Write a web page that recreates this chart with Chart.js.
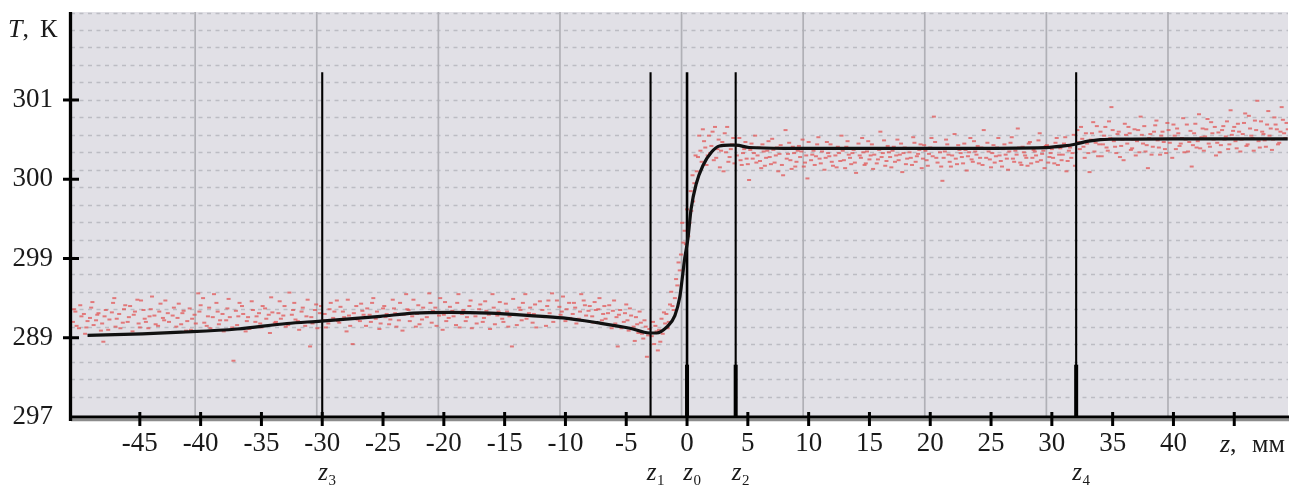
<!DOCTYPE html>
<html>
<head>
<meta charset="utf-8">
<script src="https://cdn.jsdelivr.net/npm/chart.js@4.4.1/dist/chart.umd.min.js"></script>
<style>
  html, body { margin: 0; padding: 0; background: #ffffff; }
  #wrap { width: 1294px; height: 485px; position: relative; }
</style>
</head>
<body>
<div id="wrap"><canvas id="c"></canvas></div>
<script>
// ---- axis ticks ----
const xTickValues = [-45, -40, -35, -30, -25, -20, -15, -10, -5, 0, 5, 10, 15, 20, 25, 30, 35, 40, 45];
const xTickLabels = ['-45', '-40', '-35', '-30', '-25', '-20', '-15', '-10', '-5', '0', '5', '10', '15', '20', '25', '30', '35', '40', ''];
const yTickValues = [297, 298, 299, 300, 301];
const yTickLabels = ['297', '289', '299', '300', '301'];

// ---- background grid (own hidden scales) ----
const gridXValues = [-40, -30, -20, -10, 0, 10, 20, 30, 40];
const gridYValues = [0, 1, 2, 3, 4, 5, 6, 7, 8, 9, 10, 11, 12, 13, 14, 15, 16, 17, 18, 19, 20, 21, 22];

// ---- smoothed temperature profile T(z) ----
const curveZ = [-49.3, -44.8, -41.6, -37, -32.9, -30.1, -25.2, -22.5, -19.5, -16.2, -12.9, -10.2, -7.4, -4.7, -3.1, -2.5,
  -1.7, -1.0, -0.6, -0.4, -0.2, 0.07, 0.34, 0.75, 1.3, 2.0, 2.67, 3.5, 4.04, 5.1, 8, 15, 22, 29.5, 31, 32, 33, 34, 35, 40, 49.4];
const curveT = [298.03, 298.05, 298.07, 298.11, 298.18, 298.21, 298.27, 298.31, 298.32, 298.31, 298.28, 298.25, 298.19, 298.12, 298.06, 298.06,
  298.13, 298.28, 298.51, 298.74, 298.99, 299.25, 299.63, 299.94, 300.17, 300.34, 300.42, 300.43, 300.43, 300.40, 300.39, 300.39, 300.39, 300.40, 300.42, 300.445, 300.48, 300.50, 300.505, 300.51, 300.51];

// ---- characteristic cross-sections z0..z4 ----
const markerZ = [-30, -3, 0, 4, 32];
const markerSub = ['3', '1', '0', '2', '4'];
const markerTop = 301.35;

// ---- measured points (z, T) ----
const scatterLeft = [
  [-50.5,298.20],[-50.3,298.33],[-50.0,298.12],[-49.8,298.27],[-49.5,298.05],[-49.3,298.21],[-49.0,298.38],[-48.8,298.16],
  [-48.5,298.29],[-48.2,298.09],[-48.0,297.95],[-47.8,298.35],[-47.5,298.23],[-47.2,298.44],[-47.0,298.14],[-46.7,298.30],
  [-46.4,298.19],[-46.2,298.41],[-45.9,298.26],[-45.6,298.08],[-45.4,298.33],[-45.1,298.18],[-44.9,298.47],[-44.6,298.24],
  [-44.3,298.12],[-44.1,298.36],[-43.8,298.28],[-43.5,298.15],[-43.3,298.43],[-43.0,298.22],[-42.7,298.31],[-42.5,298.06],
  [-42.2,298.38],[-41.9,298.25],[-41.6,298.17],[-41.4,298.34],[-41.1,298.21],[-40.8,298.10],[-40.5,298.29],[-40.2,298.56],
  [-40.0,298.41],[-39.7,298.19],[-39.4,298.27],[-39.2,298.12],[-38.9,298.55],[-38.6,298.33],[-38.4,298.22],[-38.1,298.08],
  [-37.8,298.37],[-37.6,298.26],[-37.3,297.71],[-37.0,298.16],[-36.8,298.44],[-36.5,298.30],[-36.2,298.21],[-36.0,298.11],
  [-35.7,298.35],[-35.4,298.27],[-35.1,298.18],[-34.9,298.40],[-34.6,298.24],[-34.3,298.06],[-34.1,298.32],[-33.8,298.20],
  [-33.5,298.46],[-33.2,298.28],[-33.0,298.14],[-32.7,298.57],[-32.4,298.35],[-32.2,298.23],[-31.9,298.10],[-31.6,298.38],
  [-31.3,298.27],[-31.0,297.89],[-30.8,298.18],[-30.5,298.42],[-30.2,298.31],[-29.9,298.22],[-29.7,298.13],[-29.4,298.36],
  [-29.1,298.25],[-28.8,298.47],[-28.6,298.19],[-28.3,298.33],[-28.0,298.08],[-27.8,298.28],[-27.5,297.92],[-27.2,298.40],
  [-26.9,298.21],[-26.7,298.34],[-26.4,298.15],[-26.1,298.29],[-25.9,298.44],[-25.6,298.24],[-25.3,298.11],[-25.0,298.37],
  [-24.8,298.26],[-24.5,298.17],[-24.2,298.48],[-24.0,298.31],[-23.7,298.22],[-23.4,298.09],[-23.1,298.55],[-22.9,298.35],
  [-22.6,298.27],[-22.3,298.14],[-22.1,298.41],[-21.8,298.23],[-21.5,298.32],[-21.2,298.56],[-21.0,298.19],[-20.7,298.38],
  [-20.4,298.28],[-20.1,298.10],[-19.9,298.45],[-19.6,298.25],[-19.3,298.34],[-19.0,298.16],[-18.8,298.55],[-18.5,298.30],
  [-18.2,298.21],[-17.9,298.40],[-17.7,298.12],[-17.4,298.27],[-17.1,298.36],[-16.8,298.20],[-16.6,298.46],[-16.3,298.29],
  [-16.0,298.55],[-15.8,298.17],[-15.5,298.33],[-15.2,298.24],[-14.9,298.43],[-14.7,298.14],[-14.4,297.89],[-14.1,298.30],
  [-13.8,298.38],[-13.6,298.22],[-13.3,298.55],[-13.0,298.31],[-12.7,298.19],[-12.5,298.42],[-12.2,298.27],[-11.9,298.35],
  [-11.6,298.15],[-11.4,298.47],[-11.1,298.56],[-10.8,298.26],[-10.5,298.39],[-10.3,298.33],[-10.0,298.21],[-9.7,298.44],
  [-9.4,298.30],[-9.2,298.38],[-8.9,298.24],[-8.7,298.55],[-8.4,298.41],[-8.1,298.34],[-7.8,298.27],[-7.6,298.45],
  [-7.3,298.36],[-7.0,298.22],[-6.8,298.40],[-6.5,298.31],[-6.2,298.12],[-6.0,298.47],[-5.8,298.26],[-5.7,297.89],
  [-5.5,298.35],[-5.2,298.20],[-5.0,298.42],[-4.8,298.09],[-4.6,298.28],[-4.3,297.96],[-4.1,298.17],[-3.9,298.33],
  [-3.7,298.05],[-3.5,298.22],[-3.3,297.76],[-3.1,298.11],
  [-50.4,298.36],[-50.2,298.15],[-49.9,298.41],[-49.6,298.30],[-49.4,298.13],[-49.1,298.25],[-48.9,298.45],[-48.6,298.22],
  [-48.4,298.31],[-48.1,298.18],[-47.9,298.27],[-47.6,298.10],[-47.3,298.32],[-47.1,298.50],[-46.9,298.24],[-46.6,298.12],
  [-46.3,298.36],[-46.0,298.20],[-45.8,298.40],[-45.5,298.29],[-45.2,298.48],[-45.0,298.13],[-44.7,298.35],[-44.5,298.20],
  [-44.2,298.27],[-44.0,298.52],[-43.7,298.17],[-43.4,298.33],[-43.1,298.25],[-42.9,298.47],[-42.6,298.20],[-42.3,298.28],
  [-42.0,298.14],[-41.8,298.43],[-41.5,298.31],[-41.2,298.09],[-40.9,298.37],[-40.7,298.24],[-40.4,298.18],[-40.1,298.33],
  [-39.8,298.50],[-39.5,298.15],[-39.3,298.38],[-39.0,298.26],[-38.7,298.44],[-38.5,298.17],[-38.2,298.30],[-37.9,298.22],
  [-37.7,298.49],[-37.4,298.13],[-37.1,298.34],[-36.9,298.27],[-36.6,298.40],[-36.3,298.08],[-36.1,298.26],[-35.8,298.46],
  [-35.5,298.20],[-35.2,298.31],[-35.0,298.13],[-34.7,298.37],[-34.4,298.29],[-34.2,298.51],[-33.9,298.19],[-33.6,298.31],
  [-33.4,298.24],[-33.1,298.40],[-32.8,298.16],[-32.5,298.29],[-32.3,298.44],[-32.0,298.21],[-31.7,298.33],[-31.4,298.15],
  [-31.2,298.48],[-30.9,298.26],[-30.6,298.35],[-30.4,298.12],[-30.1,298.40],[-29.8,298.30],[-29.5,298.18],[-29.3,298.44],
  [-29.0,298.33],[-28.7,298.21],[-28.5,298.39],[-28.2,298.26],[-27.9,298.48],[-27.7,298.15],[-27.4,298.31],[-27.1,298.23],
  [-26.8,298.43],[-26.6,298.29],[-26.3,298.37],[-26.0,298.20],[-25.8,298.50],[-25.5,298.33],[-25.2,298.18],[-24.9,298.40],
  [-24.7,298.30],[-24.4,298.23],[-24.1,298.37],[-23.9,298.14],[-23.6,298.44],[-23.3,298.29],[-23.0,298.36],[-22.8,298.21],
  [-22.5,298.48],[-22.2,298.30],[-22.0,298.17],[-21.7,298.38],[-21.4,298.26],[-21.1,298.44],[-20.9,298.34],[-20.6,298.15],
  [-20.3,298.50],[-20.0,298.29],[-19.8,298.21],[-19.5,298.39],[-19.2,298.27],[-18.9,298.44],[-18.7,298.13],[-18.4,298.35],
  [-18.1,298.26],[-17.8,298.47],[-17.6,298.31],[-17.3,298.18],[-17.0,298.42],[-16.7,298.25],[-16.5,298.34],[-16.2,298.11],
  [-15.9,298.38],[-15.6,298.28],[-15.4,298.45],[-15.1,298.20],[-14.8,298.33],[-14.6,298.27],[-14.3,298.49],[-14.0,298.16],
  [-13.7,298.35],[-13.5,298.44],[-13.2,298.24],[-12.9,298.38],[-12.6,298.30],[-12.4,298.13],[-12.1,298.46],[-11.8,298.26],
  [-11.5,298.40],[-11.3,298.31],[-11.0,298.20],[-10.7,298.47],[-10.4,298.29],[-10.2,298.52],[-9.9,298.36],[-9.6,298.25],
  [-9.3,298.44],[-9.1,298.18],[-8.8,298.33],[-8.5,298.47],[-8.3,298.28],[-8.0,298.40],[-7.7,298.19],[-7.5,298.35],
  [-7.2,298.50],[-6.9,298.30],[-6.7,298.24],[-6.4,298.41],[-6.1,298.34],[-5.9,298.18],[-5.6,298.29],[-5.4,298.12],
  [-5.1,298.31],[-4.9,298.22],[-4.7,298.37],[-4.4,298.14],[-4.2,298.26],[-4.0,298.06],[-3.8,298.19],[-3.6,297.99],
  [-3.4,298.14],[-3.2,298.03]
];
const scatterStep = [
  [-2.9,298.02],[-2.7,297.92],[-2.6,298.15],[-2.4,297.84],[-2.3,298.10],[-2.1,298.24],[-2.0,298.05],[-1.8,298.18],
  [-1.7,298.30],[-1.5,298.20],[-1.4,298.42],[-1.3,298.58],[-1.1,298.35],[-1.0,298.50],[-0.8,298.66],[-0.6,298.85],
  [-0.5,299.05],[-0.3,299.20],[-0.2,299.35],[-0.1,299.18],[0.1,299.28],[0.2,299.45],[0.35,299.60],[0.5,299.72],
  [0.6,299.95],[0.8,300.10],[0.9,300.28],[1.1,300.36],[1.2,300.22],[1.4,300.48],[1.5,300.40],[1.7,300.30],
  [1.8,300.55],[2.0,300.42],[2.2,300.24],[2.3,300.66],[2.5,300.38],[2.7,300.15],[2.9,300.47],[3.0,300.10],
  [3.2,300.34],[3.3,300.66],[3.5,300.28],[3.7,300.44],[3.9,300.20],
  [-2.8,298.20],[-2.5,298.08],[-2.2,297.95],[-1.9,298.32],[-1.6,298.12],[-1.2,298.40],[-0.9,298.74],[-0.7,298.95],
  [-0.4,299.45],[0.0,299.62],[0.3,299.85],[0.45,300.05],[0.7,300.30],[1.0,300.55],[1.3,300.63],[1.6,300.18],
  [1.9,300.33],[2.1,300.60],[2.4,300.27],[2.6,300.50],[2.8,300.36],[3.1,300.58],[3.4,300.22],[3.6,300.38],[3.8,300.52]
];
const scatterMid = [
  [4.1,300.30],[4.3,300.52],[4.5,300.18],[4.7,300.38],[4.9,300.26],[5.1,299.99],[5.3,300.45],[5.5,300.33],
  [5.7,300.21],[5.9,300.40],[6.1,300.14],[6.3,300.35],[6.5,300.27],[6.7,300.48],[6.9,300.19],[7.1,300.37],
  [7.3,300.30],[7.5,300.10],[7.7,300.43],[7.9,300.05],[8.1,300.62],[8.3,300.32],[8.5,300.24],[8.7,300.41],
  [8.9,300.16],[9.1,300.36],[9.3,300.28],[9.5,300.50],[9.7,300.21],[9.9,300.01],[10.1,300.39],[10.3,300.31],
  [10.5,300.18],[10.7,300.44],[10.9,300.26],[11.1,300.35],[11.3,300.12],[11.5,300.47],[11.7,300.29],[11.9,300.22],
  [12.1,300.38],[12.3,300.15],[12.5,300.33],[12.7,300.55],[12.9,300.24],[13.1,300.41],[13.3,300.31],[13.5,300.19],
  [13.7,300.37],[13.9,300.08],[14.1,300.45],[14.3,300.27],[14.5,300.34],[14.7,300.20],[14.9,300.48],[15.1,300.30],
  [15.3,300.13],[15.5,300.39],[15.7,300.25],[15.9,300.60],[16.1,300.33],[16.3,300.17],[16.5,300.42],[16.7,300.28],
  [16.9,300.36],[17.1,300.22],[17.3,300.50],[17.5,300.31],[17.7,300.09],[17.9,300.40],[18.1,300.26],[18.3,300.34],
  [18.5,300.18],[18.7,300.46],[18.9,300.29],[19.1,300.37],[19.3,300.14],[19.5,300.43],[19.7,300.24],[19.9,300.32],
  [20.1,300.52],[20.3,300.79],[20.5,300.27],[20.7,300.38],[20.9,300.16],[21.0,299.98],[21.2,300.35],[21.4,300.44],
  [21.6,300.22],[21.8,300.30],[22.0,300.57],[22.2,300.19],[22.4,300.37],[22.6,300.28],[22.8,300.45],[23.0,300.11],
  [23.2,300.34],[23.4,300.25],[23.6,300.48],[23.8,300.31],[24.0,300.20],[24.2,300.40],[24.4,300.62],[24.6,300.27],
  [24.8,300.35],[25.0,300.15],[25.2,300.43],[25.4,300.29],[25.6,300.52],[25.8,300.23],[26.0,300.38],[26.2,300.31],
  [26.4,300.12],[26.6,300.46],[26.8,300.26],[27.0,300.36],[27.2,300.64],[27.4,300.21],[27.6,300.41],[27.8,300.30],
  [28.0,300.17],[28.2,300.47],[28.4,300.27],[28.6,300.35],[28.8,300.22],[29.0,300.58],[29.2,300.32],[29.4,300.14],
  [29.6,300.43],[29.8,300.28],[30.0,300.38],[30.2,300.20],[30.4,300.52],[30.6,300.31],[30.8,300.24],[31.0,300.45],
  [31.2,300.10],[31.4,300.36],[31.6,300.27],[31.8,300.56],
  [4.2,300.42],[4.4,300.24],[4.6,300.33],[4.8,300.47],[5.0,300.19],[5.2,300.37],[5.4,300.26],[5.6,300.55],
  [5.8,300.30],[6.0,300.23],[6.2,300.44],[6.4,300.17],[6.6,300.36],[6.8,300.28],[7.0,300.51],[7.2,300.21],
  [7.4,300.40],[7.6,300.32],[7.8,300.18],[8.0,300.38],[8.2,300.26],[8.4,300.46],[8.6,300.13],[8.8,300.33],
  [9.0,300.22],[9.2,300.42],[9.4,300.35],[9.6,300.16],[9.8,300.30],[10.0,300.47],[10.2,300.24],[10.4,300.36],
  [10.6,300.29],[10.8,300.53],[11.0,300.20],[11.2,300.39],[11.4,300.27],[11.6,300.33],[11.8,300.44],[12.0,300.17],
  [12.2,300.30],[12.4,300.41],[12.6,300.23],[12.8,300.36],[13.0,300.14],[13.2,300.48],[13.4,300.27],[13.6,300.33],
  [13.8,300.21],[14.0,300.39],[14.2,300.30],[14.4,300.52],[14.6,300.18],[14.8,300.35],[15.0,300.25],[15.2,300.44],
  [15.4,300.31],[15.6,300.20],[15.8,300.37],[16.0,300.28],[16.2,300.49],[16.4,300.23],[16.6,300.34],[16.8,300.15],
  [17.0,300.41],[17.2,300.30],[17.4,300.24],[17.6,300.45],[17.8,300.33],[18.0,300.19],[18.2,300.38],[18.4,300.27],
  [18.6,300.53],[18.8,300.22],[19.0,300.32],[19.2,300.44],[19.4,300.26],[19.6,300.36],[19.8,300.17],[20.0,300.40],
  [20.2,300.29],[20.4,300.47],[20.6,300.21],[20.8,300.34],[21.1,300.27],[21.3,300.50],[21.5,300.31],[21.7,300.16],
  [21.9,300.39],[22.1,300.26],[22.3,300.43],[22.5,300.33],[22.7,300.20],[22.9,300.37],[23.1,300.29],[23.3,300.52],
  [23.5,300.22],[23.7,300.35],[23.9,300.42],[24.1,300.27],[24.3,300.18],[24.5,300.38],[24.7,300.46],[24.9,300.25],
  [25.1,300.33],[25.3,300.21],[25.5,300.40],[25.7,300.30],[25.9,300.16],[26.1,300.44],[26.3,300.26],[26.5,300.35],
  [26.7,300.53],[26.9,300.22],[27.1,300.31],[27.3,300.40],[27.5,300.18],[27.7,300.34],[27.9,300.27],[28.1,300.45],
  [28.3,300.20],[28.5,300.37],[28.7,300.30],[28.9,300.49],[29.1,300.24],[29.3,300.36],[29.5,300.42],[29.7,300.21],
  [29.9,300.33],[30.1,300.27],[30.3,300.46],[30.5,300.18],[30.7,300.39],[30.9,300.31],[31.1,300.53],[31.3,300.23],
  [31.5,300.40],[31.7,300.33],[31.9,300.17]
];
const scatterRight = [
  [32.1,300.62],[32.3,300.38],[32.5,300.51],[32.7,300.27],[32.9,300.45],[33.1,300.09],[33.3,300.58],[33.5,300.35],
  [33.7,300.67],[33.9,300.44],[34.1,300.29],[34.3,300.55],[34.5,300.40],[34.7,300.73],[34.9,300.91],[35.1,300.48],
  [35.3,300.33],[35.5,300.60],[35.7,300.42],[35.9,300.24],[36.1,300.56],[36.3,300.66],[36.5,300.37],[36.7,300.50],
  [36.9,300.30],[37.1,300.62],[37.3,300.79],[37.5,300.45],[37.7,300.35],[37.9,300.14],[38.1,300.57],[38.3,300.41],
  [38.5,300.68],[38.7,300.49],[38.9,300.31],[39.1,300.60],[39.3,300.38],[39.5,300.71],[39.7,300.46],[39.9,300.27],
  [40.1,300.55],[40.3,300.64],[40.5,300.42],[40.7,300.52],[40.9,300.34],[41.1,300.69],[41.3,300.47],[41.5,300.16],
  [41.7,300.58],[41.9,300.40],[42.1,300.82],[42.3,300.53],[42.5,300.36],[42.7,300.63],[42.9,300.45],[43.1,300.72],
  [43.3,300.50],[43.5,300.30],[43.7,300.59],[43.9,300.43],[44.1,300.67],[44.3,300.54],[44.5,300.38],[44.7,300.87],
  [44.9,300.61],[45.1,300.48],[45.3,300.70],[45.5,300.35],[45.7,300.57],[45.9,300.83],[46.1,300.44],[46.3,300.64],
  [46.5,300.52],[46.7,300.74],[46.9,300.99],[47.1,300.40],[47.3,300.60],[47.5,300.49],[47.7,300.69],[47.9,300.55],
  [48.1,300.37],[48.3,300.78],[48.5,300.63],[48.7,300.46],[48.9,300.91],[49.1,300.58],[49.3,300.71],
  [32.2,300.47],[32.4,300.66],[32.6,300.41],[32.8,300.58],[33.0,300.33],[33.2,300.50],[33.4,300.72],[33.6,300.46],
  [33.8,300.29],[34.0,300.60],[34.2,300.44],[34.4,300.66],[34.6,300.36],[34.8,300.52],[35.0,300.62],[35.2,300.41],
  [35.4,300.57],[35.6,300.28],[35.8,300.50],[36.0,300.70],[36.2,300.45],[36.4,300.58],[36.6,300.39],[36.8,300.63],
  [37.0,300.48],[37.2,300.34],[37.4,300.56],[37.6,300.67],[37.8,300.43],[38.0,300.52],[38.2,300.31],[38.4,300.60],
  [38.6,300.74],[38.8,300.40],[39.0,300.55],[39.2,300.47],[39.4,300.33],[39.6,300.62],[39.8,300.51],[40.0,300.69],
  [40.2,300.38],[40.4,300.58],[40.6,300.45],[40.8,300.77],[41.0,300.50],[41.2,300.35],[41.4,300.61],[41.6,300.43],
  [41.8,300.70],[42.0,300.48],[42.2,300.39],[42.4,300.64],[42.6,300.54],[42.8,300.76],[43.0,300.41],[43.2,300.58],
  [43.4,300.66],[43.6,300.46],[43.8,300.34],[44.0,300.62],[44.2,300.50],[44.4,300.73],[44.6,300.44],[44.8,300.56],
  [45.0,300.66],[45.2,300.39],[45.4,300.60],[45.6,300.50],[45.8,300.71],[46.0,300.42],[46.2,300.80],[46.4,300.55],
  [46.6,300.36],[46.8,300.62],[47.0,300.48],[47.2,300.73],[47.4,300.57],[47.6,300.41],[47.8,300.86],[48.0,300.64],
  [48.2,300.50],[48.4,300.69],[48.6,300.44],[48.8,300.60],[49.0,300.75],[49.2,300.52],[49.4,300.63]
];

// ---- view window ----
const X_MIN = -50.66, X_MAX = 49.42;
const T_MIN = 297, T_MAX = 302.11;
const GRID_SHIFT = 0.45;
const SERIF = "'Liberation Serif', 'Times New Roman', serif";

const toPts = arr => arr.map(p => ({ x: p[0], y: p[1] }));
const measured = [].concat(toPts(scatterLeft), toPts(scatterStep), toPts(scatterMid), toPts(scatterRight));

const heavyFoot = new Set(['0', '2', '4']);

const frame = {
  id: 'frame',
  beforeDraw(chart) {
    const { ctx, chartArea: a } = chart;
    ctx.save();
    ctx.fillStyle = '#e1e0e6';
    ctx.fillRect(a.left, a.top, a.right - a.left, a.bottom - a.top);
    ctx.restore();
  },
  beforeDatasetsDraw(chart) {
    const { ctx, chartArea: a } = chart;
    const gx = chart.scales.x2, gy = chart.scales.y2;
    ctx.save();
    ctx.beginPath();
    ctx.rect(a.left, a.top, a.right - a.left, a.bottom - a.top);
    ctx.clip();
    ctx.strokeStyle = '#bcbcc3';
    ctx.lineWidth = 1.5;
    ctx.setLineDash([4, 4.5]);
    gridYValues.forEach(v => {
      const y = Math.round(gy.getPixelForValue(v)) + 0.5;
      ctx.beginPath(); ctx.moveTo(a.left, y); ctx.lineTo(a.right, y); ctx.stroke();
    });
    ctx.setLineDash([]);
    ctx.strokeStyle = '#b0b0b6';
    ctx.lineWidth = 1.7;
    gridXValues.forEach(v => {
      const x = gx.getPixelForValue(v);
      ctx.beginPath(); ctx.moveTo(x, a.top); ctx.lineTo(x, a.bottom); ctx.stroke();
    });
    ctx.restore();
  },
  afterDatasetsDraw(chart) {
    const { ctx, chartArea: a } = chart;
    const xs = chart.scales.x, ys = chart.scales.y;
    ctx.save();
    // heavy feet of the section lines
    ctx.fillStyle = '#000';
    markerZ.forEach((z, i) => {
      if (!heavyFoot.has(markerSub[i])) return;
      const x = xs.getPixelForValue(z);
      const yTop = ys.getPixelForValue(297.66);
      ctx.fillRect(x - 2, yTop, 4, a.bottom - yTop);
    });
    // axes
    ctx.strokeStyle = '#8c8c8c';
    ctx.lineWidth = 2.5;
    ctx.beginPath(); ctx.moveTo(a.left, a.bottom + 3); ctx.lineTo(a.right + 1, a.bottom + 3); ctx.stroke();
    ctx.strokeStyle = '#000';
    ctx.lineWidth = 3;
    ctx.beginPath(); ctx.moveTo(a.left - 1, a.bottom); ctx.lineTo(a.right + 1, a.bottom); ctx.stroke();
    ctx.lineWidth = 3.3;
    ctx.beginPath(); ctx.moveTo(a.left - 0.5, a.top); ctx.lineTo(a.left - 0.5, a.bottom + 4); ctx.stroke();
    // tick marks crossing the axes
    ctx.lineWidth = 3;
    yTickValues.forEach(v => {
      if (v === T_MIN) return;
      const y = ys.getPixelForValue(v);
      ctx.beginPath(); ctx.moveTo(a.left - 8, y); ctx.lineTo(a.left + 8, y); ctx.stroke();
    });
    xTickValues.forEach(v => {
      const x = xs.getPixelForValue(v);
      ctx.beginPath(); ctx.moveTo(x, a.bottom - 5); ctx.lineTo(x, a.bottom + 9); ctx.stroke();
    });
    ctx.restore();
  },
  afterDraw(chart) {
    const { ctx } = chart;
    const xs = chart.scales.x;
    ctx.save();
    ctx.fillStyle = '#1a1a1a';
    ctx.textBaseline = 'alphabetic';
    ctx.textAlign = 'left';
    // T, К
    ctx.font = 'italic 26px ' + SERIF;
    ctx.fillText('T', 8, 37);
    let w = ctx.measureText('T').width;
    ctx.font = '26px ' + SERIF;
    ctx.fillText(',', 8 + w, 37);
    ctx.fillText('К', 40, 37);
    // z, мм
    ctx.font = 'italic 26px ' + SERIF;
    ctx.fillText('z', 1220, 452);
    w = ctx.measureText('z').width;
    ctx.font = '26px ' + SERIF;
    ctx.fillText(',', 1220 + w, 452);
    ctx.fillText('мм', 1252, 452);
    // section names
    markerZ.forEach((z, i) => {
      const x = xs.getPixelForValue(z) + 1;
      ctx.font = 'italic 25px ' + SERIF;
      const zw = ctx.measureText('z').width;
      ctx.fillText('z', x - zw / 2, 480);
      ctx.font = '15px ' + SERIF;
      ctx.fillText(markerSub[i], x + zw / 2 + 0.5, 485);
    });
    ctx.restore();
  }
};

const hiddenAxis = (pos, min, max, horizontal) => ({
  type: 'linear', display: false, position: pos, min, max,
  ticks: { display: false },
  afterFit: s => { if (horizontal) s.height = 0; else s.width = 0; }
});

new Chart(document.getElementById('c'), {
  type: 'line',
  data: {
    datasets: [
      {
        label: 'T(z)',
        data: curveZ.map((z, i) => ({ x: z, y: curveT[i] })),
        borderColor: '#111111',
        borderWidth: 3.2,
        pointRadius: 0,
        cubicInterpolationMode: 'monotone',
        fill: false,
        order: 0
      },
      ...markerZ.map((z, i) => ({
        label: 'z' + markerSub[i],
        data: [{ x: z, y: T_MIN }, { x: z, y: markerTop }],
        borderColor: '#000000',
        borderWidth: markerSub[i] === '0' ? 2.6 : 2.1,
        pointRadius: 0,
        fill: false,
        order: 1
      })),
      {
        label: 'measured',
        data: measured,
        showLine: false,
        pointStyle: 'line',
        pointRadius: 2,
        pointBorderWidth: 2,
        borderColor: 'rgba(226, 86, 86, 0.75)',
        backgroundColor: 'rgba(226, 86, 86, 0.75)',
        order: 2
      }
    ]
  },
  options: {
    responsive: true,
    maintainAspectRatio: false,
    animation: false,
    devicePixelRatio: 1,
    events: [],
    layout: { padding: { left: 0, right: 5, top: 12, bottom: 0 } },
    plugins: { legend: { display: false }, tooltip: { enabled: false } },
    scales: {
      x: {
        type: 'linear', position: 'bottom', min: X_MIN, max: X_MAX,
        afterBuildTicks: s => { s.ticks = xTickValues.map(v => ({ value: v })); },
        afterFit: s => { s.height = 68; s.paddingLeft = 0; s.paddingRight = 0; },
        grid: { display: false, drawTicks: false },
        border: { display: false },
        ticks: {
          autoSkip: false, maxRotation: 0, minRotation: 0, padding: 11, color: '#1a1a1a',
          font: { family: SERIF, size: 27 },
          callback: (v, i) => xTickLabels[i]
        }
      },
      y: {
        type: 'linear', position: 'left', min: T_MIN, max: T_MAX,
        afterBuildTicks: s => { s.ticks = yTickValues.map(v => ({ value: v })); },
        afterFit: s => { s.width = 71; s.paddingTop = 0; s.paddingBottom = 0; },
        grid: { display: false, drawTicks: false },
        border: { display: false },
        ticks: {
          padding: 18, color: '#1a1a1a',
          font: { family: SERIF, size: 27 },
          callback: (v, i) => yTickLabels[i]
        }
      },
      x2: hiddenAxis('top', X_MIN + GRID_SHIFT, X_MAX + GRID_SHIFT, true),
      y2: hiddenAxis('right', -1.163, 22.033, false)
    }
  },
  plugins: [frame]
});
</script>
</body>
</html>
